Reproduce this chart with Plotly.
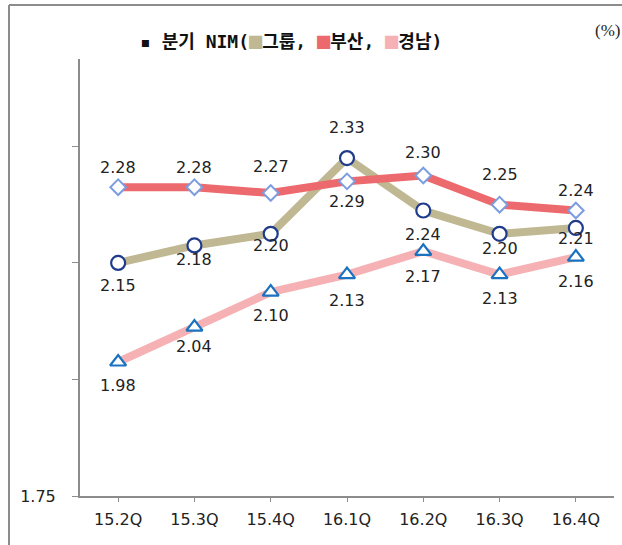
import plotly.graph_objects as go

categories = ["15.2Q", "15.3Q", "15.4Q", "16.1Q", "16.2Q", "16.3Q", "16.4Q"]
group_vals = [2.15, 2.18, 2.20, 2.33, 2.24, 2.20, 2.21]
busan_vals = [2.28, 2.28, 2.27, 2.29, 2.30, 2.25, 2.24]
kyongnam_vals = [1.98, 2.04, 2.10, 2.13, 2.17, 2.13, 2.16]
series_names = ["그룹", "부산", "경남"]

# label vertical offsets (pixels) for each data label
group_shift = [-23, -14, -12, 31, -24, -15, -11]
busan_shift = [20, 20, 27, -20, 23, 30, 20]
kyongnam_shift = [-24, -19, -23, -26, -25, -24, -24]

label_font = dict(family="DejaVu Sans, sans-serif", size=16, color="#222222")

fig = go.Figure()
fig.add_trace(go.Scatter(
    x=categories, y=group_vals, name=series_names[0],
    mode="lines+markers",
    line=dict(color="#BFB892", width=8),
    marker=dict(symbol="circle", size=14, color="white",
                line=dict(color="#1F3C8C", width=2.2)),
    cliponaxis=False,
))
fig.add_trace(go.Scatter(
    x=categories, y=busan_vals, name=series_names[1],
    mode="lines+markers",
    line=dict(color="#EC6A6E", width=8),
    marker=dict(symbol="diamond", size=12, color="white",
                line=dict(color="#7C9DE0", width=2)),
    cliponaxis=False,
))
fig.add_trace(go.Scatter(
    x=categories, y=kyongnam_vals, name=series_names[2],
    mode="lines+markers",
    line=dict(color="#F5B1B3", width=8),
    marker=dict(symbol="triangle-up", size=14, color="white",
                line=dict(color="#1A72C0", width=2.2)),
    cliponaxis=False,
))

annotations = []
for vals, shifts in ((group_vals, group_shift), (busan_vals, busan_shift),
                     (kyongnam_vals, kyongnam_shift)):
    for c, v, s in zip(categories, vals, shifts):
        annotations.append(dict(x=c, y=v, xref="x", yref="y", text=f"{v:.2f}",
                                showarrow=False, yshift=s, font=label_font,
                                xanchor="center", yanchor="middle"))

L, R, T, B = 80, 8, 59, 49
W, H = 622, 545
pw, ph = W - L - R, H - T - B

def px_x(p):
    return (p - L) / pw

def px_y(p):
    return (H - B - p) / ph

title_text = ("▪ 분기 NIM(<span style='color:#BFB892;font-size:22px'>■</span>그룹, "
              "<span style='color:#EC6A6E;font-size:22px'>■</span>부산, "
              "<span style='color:#F5B1B3;font-size:22px'>■</span>경남)")

annotations += [
    dict(text=title_text, xref="paper", yref="paper",
         x=px_x(138), y=px_y(40), xanchor="left", yanchor="middle",
         showarrow=False,
         font=dict(family="DejaVu Sans Mono, Noto Sans CJK KR", size=18,
                   color="#111111", weight="bold")),
    dict(text="(%)", xref="paper", yref="paper",
         x=px_x(622), y=px_y(31), xanchor="right", yanchor="middle",
         showarrow=False,
         font=dict(family="Liberation Serif, serif", size=17, color="#222222")),
]

tick_font = dict(family="DejaVu Sans, sans-serif", size=16, color="#222222")

fig.update_layout(
    width=W, height=H,
    margin=dict(l=L, r=R, t=T, b=B),
    paper_bgcolor="white", plot_bgcolor="white",
    showlegend=False,
    xaxis=dict(
        type="category", range=[-0.5, 6.5],
        showline=True, linecolor="#8C8C8C", linewidth=2,
        ticks="outside", ticklen=4, tickcolor="#8C8C8C", tickwidth=1,
        showgrid=False, zeroline=False, tickfont=tick_font,
        ticklabelstandoff=4,
    ),
    yaxis=dict(
        range=[1.75, 2.5],
        tickvals=[1.75, 1.95, 2.15, 2.35],
        ticktext=["1.75", "", "", ""],
        showline=True, linecolor="#8C8C8C", linewidth=2,
        ticks="outside", ticklen=6, tickcolor="#8C8C8C", tickwidth=1,
        showgrid=False, zeroline=False,
        ticklabelstandoff=13, tickfont=tick_font,
    ),
    shapes=[
        dict(type="line", xref="paper", yref="paper",
             x0=px_x(9), x1=px_x(630), y0=px_y(5), y1=px_y(5),
             line=dict(color="#8C8C8C", width=2)),
        dict(type="line", xref="paper", yref="paper",
             x0=px_x(9), x1=px_x(9), y0=px_y(5), y1=px_y(560),
             line=dict(color="#8C8C8C", width=2)),
    ],
    annotations=annotations,
)

fig.write_html("out.html", config={"displayModeBar": False},
               post_script="document.body.style.margin='0';")
